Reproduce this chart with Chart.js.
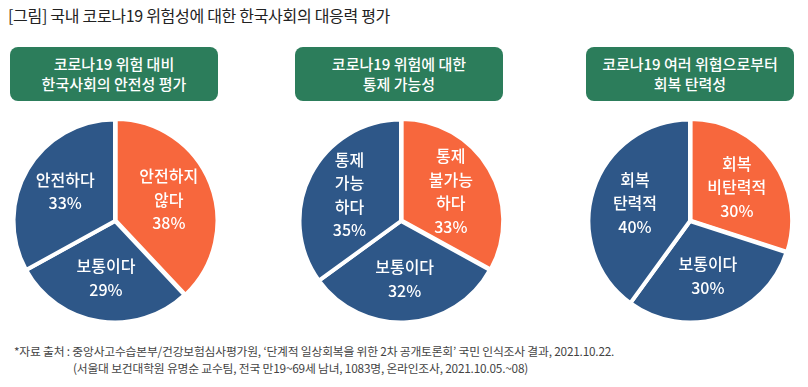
<!DOCTYPE html>
<html>
<head>
<meta charset="utf-8">
<script src="https://cdn.jsdelivr.net/npm/chart.js@4"></script>
<style>
  body { margin: 0; background: #fff; font-family: "Noto Sans CJK KR", "Noto Sans", sans-serif; }
  #wrap { position: relative; width: 808px; height: 387px; overflow: hidden; }
  .title { position: absolute; left: 8px; top: 3px; font-size: 16px; color: #222; white-space: nowrap; letter-spacing: -0.3px; }
  .head { position: absolute; top: 47px; width: 208px; height: 54px; background: #2c7d5b; border-radius: 8px;
          color: #fff; font-size: 15px; font-weight: 500; line-height: 20px; text-align: center;
          display: flex; align-items: center; justify-content: center; }
  .pie { position: absolute; top: 116px; width: 210px; height: 210px; }
  .note { position: absolute; font-size: 11.8px; color: #444; white-space: nowrap; letter-spacing: -0.2px; }
</style>
</head>
<body>
<div id="wrap">
  <div class="title">[그림] 국내 코로나19 위험성에 대한 한국사회의 대응력 평가</div>
  <div class="head" style="left:10px">코로나19 위험 대비<br>한국사회의 안전성 평가</div>
  <div class="head" style="left:295px">코로나19 위험에 대한<br>통제 가능성</div>
  <div class="head" style="left:586px">코로나19 여러 위협으로부터<br>회복 탄력성</div>
  <div class="pie" style="left:10px"><canvas id="pie1"></canvas></div>
  <div class="pie" style="left:296px"><canvas id="pie2"></canvas></div>
  <div class="pie" style="left:585px"><canvas id="pie3"></canvas></div>
  <div class="note" style="left:14px; top:342px">*자료 출처 : 중앙사고수습본부/건강보험심사평가원, ‘단계적 일상회복을 위한 2차 공개토론회’ 국민 인식조사 결과, 2021.10.22.</div>
  <div class="note" style="left:73px; top:359px">(서울대 보건대학원 유명순 교수팀, 전국 만19~69세 남녀, 1083명, 온라인조사, 2021.10.05.~08)</div>
</div>
<script>
// slice order: orange first (from 12 o'clock, clockwise), then bottom, then left
const safetyLabels = [['안전하지', '않다'], ['보통이다'], ['안전하다']];
const safetyValues = [38, 29, 33];

const controlLabels = [['통제', '불가능', '하다'], ['보통이다'], ['통제', '가능', '하다']];
const controlValues = [33, 32, 35];

const recoveryLabels = [['회복', '비탄력적'], ['보통이다'], ['회복', '탄력적']];
const recoveryValues = [30, 30, 40];

const ORANGE = '#f7673d';
const BLUE = '#2e5788';

// draws the multi-line label + percent inside each slice
const sliceText = {
    id: 'sliceText',
    afterDatasetsDraw(chart) {
        const ctx = chart.ctx;
        const meta = chart.getDatasetMeta(0);
        const ds = chart.data.datasets[0];
        ctx.save();
        ctx.fillStyle = '#fff';
        ctx.font = '500 16px "Noto Sans CJK KR", sans-serif';
        ctx.textAlign = 'center';
        ctx.textBaseline = 'middle';
        meta.data.forEach((arc, i) => {
            const p = arc.getProps(['x', 'y', 'startAngle', 'endAngle', 'outerRadius'], true);
            const mid = (p.startAngle + p.endAngle) / 2;
            const r = p.outerRadius * 0.57;
            const cx = p.x + Math.cos(mid) * r;
            const cy = p.y + Math.sin(mid) * r;
            const lines = chart.data.labels[i].concat([ds.data[i] + '%']);
            const lh = 23.5;
            let y = cy - (lines.length - 1) * lh / 2;
            lines.forEach((t) => {
                ctx.fillText(t, cx, y);
                y += lh;
            });
        });
        ctx.restore();
    }
};

function makePie(id, labels, values) {
    return new Chart(document.getElementById(id), {
        type: 'pie',
        data: {
            labels: labels,
            datasets: [{
                data: values,
                backgroundColor: [ORANGE, BLUE, BLUE],
                borderColor: '#fff',
                borderWidth: 4,
                offset: [3, 0, 0]
            }]
        },
        options: {
            responsive: true,
            maintainAspectRatio: false,
            animation: false,
            layout: { padding: 0 },
            plugins: {
                legend: { display: false },
                tooltip: { enabled: false }
            }
        },
        plugins: [sliceText]
    });
}

makePie('pie1', safetyLabels, safetyValues);
makePie('pie2', controlLabels, controlValues);
makePie('pie3', recoveryLabels, recoveryValues);
</script>
</body>
</html>
